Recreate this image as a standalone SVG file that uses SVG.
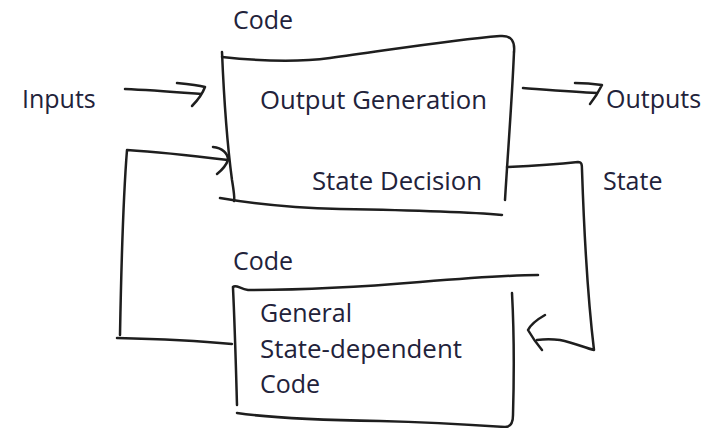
<svg xmlns="http://www.w3.org/2000/svg" width="718" height="428" viewBox="0 0 718 428">
  <style>
    .ink { fill: none; stroke: #1e1e1e; stroke-width: 2.5; stroke-linecap: round; stroke-linejoin: round; }
    .lbl { font-family: "Open Sans", "Noto Sans", sans-serif; font-size: 25px; fill: #22223a; }
  </style>
  <rect width="718" height="428" fill="#ffffff"/>

  <!-- upper code block: output generation + state decision -->
  <g id="code-top">
    <text class="lbl" x="233" y="29">Code</text>
    <path class="ink" d="M222,52 C224,100 228,150 232,180 C234,192 235,198 234,201"/>
    <path class="ink" d="M222,57 C260,61 300,62 330,58 C390,50 450,40 500,36 C512,35 515,42 514,52"/>
    <path class="ink" d="M514,52 C512,100 508,150 505,200"/>
    <path class="ink" d="M220,198 C260,205 300,208 340,209 C400,210 460,211 502,215"/>
    <text class="lbl" x="260" y="109" textLength="227" lengthAdjust="spacingAndGlyphs">Output Generation</text>
    <text class="lbl" x="312" y="190" textLength="170" lengthAdjust="spacingAndGlyphs">State Decision</text>
  </g>

  <!-- lower code block: general state-dependent code -->
  <g id="code-bottom">
    <text class="lbl" x="233" y="270">Code</text>
    <path class="ink" d="M233,287 C236,284 240,289 248,290 C300,290 360,287 420,282 C470,278 510,275 538,275"/>
    <path class="ink" d="M233,288 C235,330 236,370 237,405"/>
    <path class="ink" d="M512,293 C514,330 514,380 513,415 C513,424 510,427 505,427 C460,424 420,422 380,421 C320,420 270,418 237,413"/>
    <text class="lbl" x="260" y="322">General</text>
    <text class="lbl" x="260" y="358" textLength="202" lengthAdjust="spacingAndGlyphs">State-dependent</text>
    <text class="lbl" x="260" y="393">Code</text>
  </g>

  <!-- free labels -->
  <g id="inputs"><text class="lbl" x="22" y="108">Inputs</text></g>
  <g id="outputs"><text class="lbl" x="606" y="108">Outputs</text></g>
  <g id="state"><text class="lbl" x="603" y="190">State</text></g>

  <!-- hand-drawn connectors -->
  <g id="connectors">
    <!-- inputs into upper block -->
    <path class="ink" d="M125,89 C150,90 175,92 201,94"/>
    <path class="ink" d="M177,83 C188,84 198,85 205,87 C202,95 197,101 192,106"/>
    <!-- upper block to outputs -->
    <path class="ink" d="M523,88 C550,90 575,92 597,93"/>
    <path class="ink" d="M575,83 C585,83 595,84 602,85 C598,93 594,99 590,104"/>
    <!-- state feedback from upper block round to lower block -->
    <path class="ink" d="M507,167 C530,166 560,164 578,162 C582,162 582,165 582,170 C584,230 588,300 594,350 C585,348 575,343 560,340 C552,339 545,339 537,340"/>
    <path class="ink" d="M545,315 C538,319 531,324 528,330 C532,337 537,344 542,350"/>
    <!-- lower block back into upper block -->
    <path class="ink" d="M232,344 C200,341 160,339 117,338"/>
    <path class="ink" d="M120,335 C121,280 123,200 127,150 C160,152 195,156 228,160"/>
    <path class="ink" d="M213,147 C222,148 228,153 228,160 C226,166 222,170 217,174"/>
  </g>
</svg>
